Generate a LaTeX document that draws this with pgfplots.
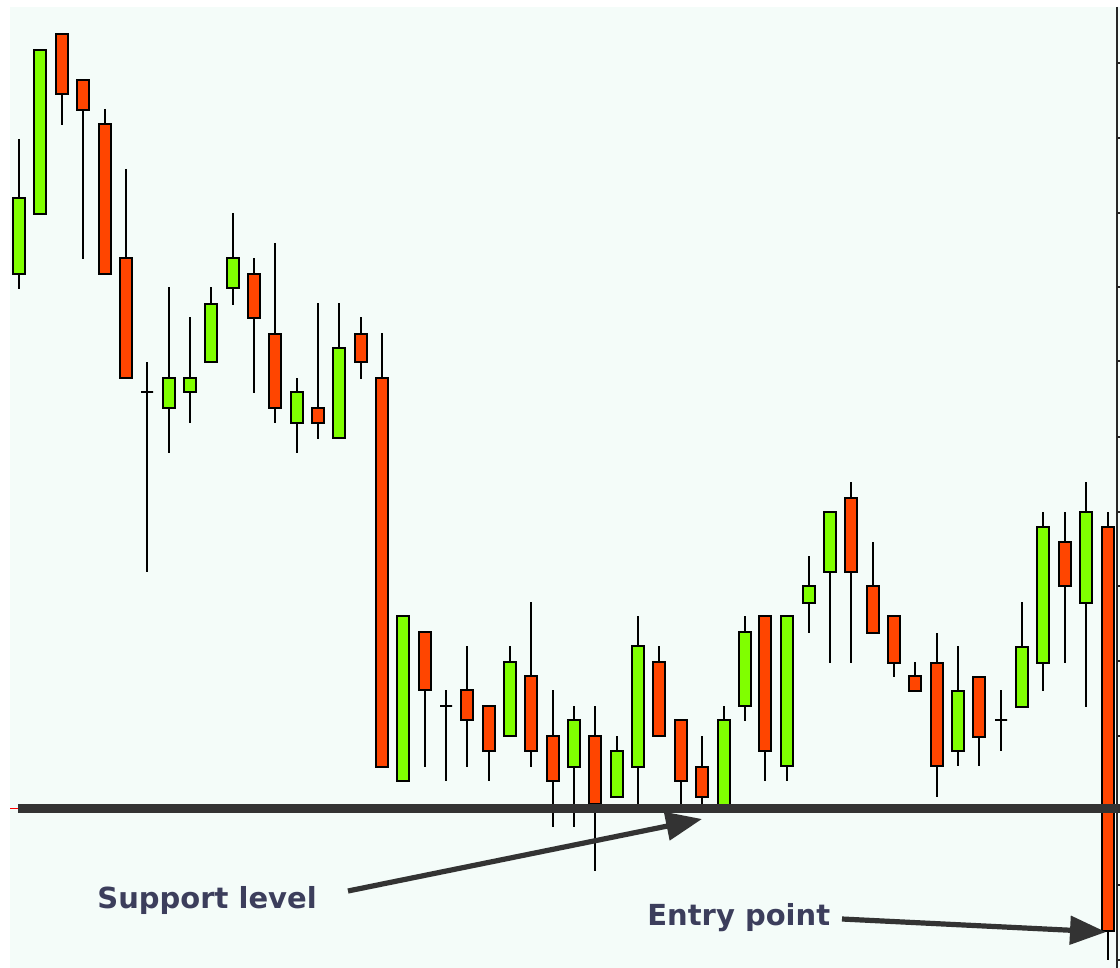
\documentclass[border=0pt]{standalone}
\usepackage{fontspec}
\setmainfont{DejaVu Sans}
\usepackage{pgfplots}
\pgfplotsset{compat=1.18}
\usepgfplotslibrary{statistics}
\usetikzlibrary{arrows.meta}

\definecolor{bgmint}{RGB}{244,252,249}
\definecolor{upgreen}{RGB}{128,255,0}
\definecolor{dnred}{RGB}{255,69,0}
\definecolor{linegray}{RGB}{51,51,51}
\definecolor{txt}{RGB}{60,62,92}

% one candle: colour, x, wick top, body top, body bottom, wick bottom (pixels, y down)
\newcommand{\candle}[6]{%
  \addplot[draw=black, line width=1bp, fill=#1,
    boxplot prepared={draw direction=y, draw position=#2,
      lower whisker=#3, lower quartile=#4, median=#4,
      upper quartile=#5, upper whisker=#6,
      box extend=12, whisker extend=0}] coordinates {};}

\begin{document}
\begin{tikzpicture}
\begin{axis}[
  width=560bp, height=484bp, scale only axis,
  xmin=0, xmax=1120, ymin=0, ymax=968,
  y dir=reverse,
  hide axis, clip=true]

  \fill[white] (axis cs:0,0) rectangle (axis cs:1120,968);
  \fill[bgmint] (axis cs:10,7) rectangle (axis cs:1120,968);

  \candle{upgreen}{19}{139}{198}{274}{289}
  \candle{upgreen}{40}{50}{50}{214}{214}
  \candle{dnred}{62}{34}{34}{94}{125}
  \candle{dnred}{83}{80}{80}{110}{259}
  \candle{dnred}{105}{109}{124}{274}{274}
  \candle{dnred}{126}{169}{258}{378}{378}
  \candle{upgreen}{147}{362}{392}{392}{572}
  \candle{upgreen}{169}{287}{378}{408}{453}
  \candle{upgreen}{190}{317}{378}{392}{423}
  \candle{upgreen}{211}{287}{304}{362}{362}
  \candle{upgreen}{233}{213}{258}{288}{305}
  \candle{dnred}{254}{258}{274}{318}{393}
  \candle{dnred}{275}{243}{334}{408}{423}
  \candle{upgreen}{297}{378}{392}{423}{453}
  \candle{dnred}{318}{303}{408}{423}{439}
  \candle{upgreen}{339}{303}{348}{438}{438}
  \candle{dnred}{361}{317}{334}{362}{379}
  \candle{dnred}{382}{333}{378}{767}{767}
  \candle{upgreen}{403}{616}{616}{781}{781}
  \candle{dnred}{425}{632}{632}{690}{767}
  \candle{upgreen}{446}{690}{706}{706}{781}
  \candle{dnred}{467}{646}{690}{720}{767}
  \candle{dnred}{489}{706}{706}{751}{781}
  \candle{upgreen}{510}{646}{662}{736}{736}
  \candle{dnred}{531}{602}{676}{751}{767}
  \candle{dnred}{553}{690}{736}{781}{827}
  \candle{upgreen}{574}{706}{720}{767}{827}
  \candle{dnred}{595}{706}{736}{804}{871}
  \candle{upgreen}{617}{736}{751}{797}{797}
  \candle{upgreen}{638}{616}{646}{767}{804}
  \candle{dnred}{659}{646}{662}{736}{736}
  \candle{dnred}{681}{720}{720}{781}{804}
  \candle{dnred}{702}{736}{767}{797}{804}
  \candle{upgreen}{724}{706}{720}{806}{806}
  \candle{upgreen}{745}{616}{632}{706}{721}
  \candle{dnred}{765}{616}{616}{751}{781}
  \candle{upgreen}{787}{616}{616}{766}{781}
  \candle{upgreen}{809}{556}{586}{603}{633}
  \candle{upgreen}{830}{512}{512}{572}{663}
  \candle{dnred}{851}{482}{498}{572}{663}
  \candle{dnred}{873}{542}{586}{633}{633}
  \candle{dnred}{894}{616}{616}{663}{677}
  \candle{dnred}{915}{662}{676}{691}{691}
  \candle{dnred}{937}{633}{663}{766}{797}
  \candle{upgreen}{958}{646}{691}{751}{766}
  \candle{dnred}{979}{677}{677}{737}{766}
  \candle{upgreen}{1001}{690}{720}{720}{751}
  \candle{upgreen}{1022}{602}{647}{707}{707}
  \candle{upgreen}{1043}{512}{527}{663}{691}
  \candle{dnred}{1065}{512}{542}{586}{663}
  \candle{upgreen}{1086}{482}{512}{603}{707}
  \candle{dnred}{1108}{512}{527}{931}{960}

  % right price scale
  \draw[black!85, line width=0.9bp] (axis cs:1117,7) -- (axis cs:1117,968);
  \pgfplotsinvokeforeach{63,138,213,287,361,437,512,586,661,736,810,885,960}{
    \draw[black!85, line width=0.6bp] (axis cs:1117,#1) -- (axis cs:1120,#1);}

  % support level
  \draw[red, line width=0.5bp] (axis cs:10,808) -- (axis cs:18,808);
  \draw[linegray, line width=4.5bp] (axis cs:18,808) -- (axis cs:1120,808);

  % annotations
  \draw[linegray, line width=2.6bp, -{Triangle[length=18bp, width=14bp]}]
    (axis cs:348,891) -- (axis cs:702,819);
  \draw[linegray, line width=2.6bp, -{Triangle[length=18bp, width=14bp]}]
    (axis cs:842,919) -- (axis cs:1106,932);
  \node[anchor=base west, inner sep=0pt, text=txt,
    font=\fontsize{14.5bp}{17bp}\selectfont\bfseries]
    at (axis cs:97,908) {Support level};
  \node[anchor=base west, inner sep=0pt, text=txt,
    font=\fontsize{14.5bp}{17bp}\selectfont\bfseries]
    at (axis cs:647,925) {Entry point};
\end{axis}
\end{tikzpicture}
\end{document}
